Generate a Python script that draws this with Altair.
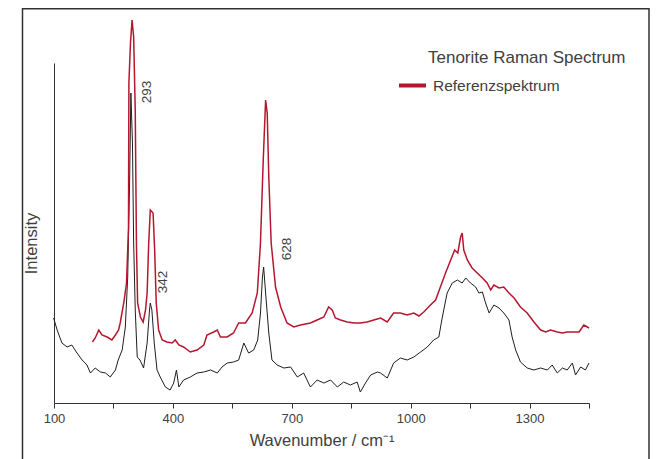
import altair as alt
import pandas as pd

# Sample spectrum (black)
black_wn = [99, 108, 120, 133, 145, 158, 171, 183, 192, 204, 217, 230, 242, 255, 262, 272, 280, 286, 291, 294,
            298, 301, 305, 310, 317, 326, 335, 341, 343, 347, 353, 360, 368, 381, 393, 402, 409, 415, 427, 444,
            461, 478, 495, 512, 524, 537, 553, 566, 579, 591, 604, 614, 621, 626, 629, 634, 642, 650, 663, 680,
            697, 714, 730, 747, 764, 781, 798, 815, 831, 848, 865, 873, 886, 899, 916, 924, 941, 957, 974, 991,
            1008, 1025, 1042, 1058, 1071, 1080, 1092, 1105, 1118, 1130, 1139, 1151, 1164, 1172, 1181, 1189, 1198, 1210, 1223, 1235,
            1248, 1256, 1265, 1277, 1294, 1311, 1328, 1345, 1357, 1370, 1383, 1395, 1408, 1416, 1429, 1441, 1450]
black_int = [85, 73, 60, 56, 58, 50, 43, 38, 30, 35, 31, 30, 26, 33, 43, 53, 76, 126, 226, 310,
             260, 160, 93, 46, 43, 35, 60, 93, 100, 93, 60, 33, 26, 16, 13, 20, 33, 16, 23, 26,
             30, 31, 33, 30, 36, 40, 41, 43, 60, 50, 53, 63, 90, 126, 136, 110, 70, 43, 38, 35,
             36, 26, 30, 16, 23, 20, 23, 16, 21, 18, 21, 11, 20, 28, 31, 30, 25, 40, 45, 43,
             46, 51, 56, 63, 66, 86, 110, 120, 123, 120, 125, 120, 116, 110, 111, 100, 90, 98, 95, 90,
             83, 66, 53, 41, 35, 33, 35, 33, 38, 30, 35, 33, 40, 28, 36, 33, 40]

# Reference spectrum (red)
ref_wn = [197, 204, 213, 221, 234, 246, 255, 263, 267, 276, 283, 288, 289, 293, 297, 301, 305, 308, 311, 318,
          325, 331, 335, 339, 343, 350, 354, 358, 364, 373, 385, 398, 406, 415, 427, 444, 461, 478, 486, 503,
          512, 520, 537, 553, 566, 583, 600, 613, 621, 628, 634, 638, 642, 648, 659, 672, 688, 705, 722, 747,
          764, 781, 793, 802, 810, 823, 840, 857, 873, 890, 907, 924, 941, 957, 974, 991, 1008, 1021, 1033, 1050,
          1063, 1075, 1088, 1101, 1111, 1119, 1126, 1130, 1134, 1143, 1155, 1168, 1181, 1193, 1202, 1210, 1223, 1235, 1248, 1261,
          1277, 1294, 1311, 1328, 1341, 1353, 1370, 1383, 1395, 1408, 1425, 1437, 1450]
ref_int = [61, 65, 73, 68, 66, 63, 68, 73, 80, 100, 120, 176, 320, 360, 383, 366, 293, 160, 100, 86,
           81, 93, 110, 160, 193, 190, 153, 100, 73, 63, 61, 60, 63, 58, 56, 51, 53, 58, 68, 71,
           73, 66, 66, 70, 80, 80, 90, 110, 160, 243, 303, 290, 226, 160, 116, 96, 80, 76, 78, 80,
           83, 86, 96, 93, 85, 83, 81, 80, 80, 81, 83, 85, 81, 90, 90, 88, 90, 87, 91, 98,
           103, 116, 130, 143, 153, 150, 166, 170, 153, 143, 135, 130, 125, 120, 113, 118, 115, 116, 110, 105,
           96, 90, 81, 73, 71, 73, 71, 70, 71, 71, 71, 78, 75]

# Peak annotations
peak_labels = ["293", "342", "628"]
peak_wn = [335, 376, 687]
peak_int = [311, 121, 154]

x_ticks = [100, 250, 400, 550, 700, 850, 1000, 1150, 1300, 1450]

FONT = "Liberation Sans"
TXT = "#404040"

black_df = pd.DataFrame({"wn": black_wn, "I": black_int})
ref_df = pd.DataFrame({"wn": ref_wn, "I": ref_int, "series": ["Referenzspektrum"] * len(ref_wn)})
peaks_df = pd.DataFrame({"wn": peak_wn, "I": peak_int, "label": peak_labels})

xscale = alt.Scale(domain=[100, 1450], nice=False, zero=False)
yscale = alt.Scale(domain=[0, 340], nice=False, zero=False)

xaxis = alt.Axis(values=x_ticks, labelExpr="(datum.value - 100) % 300 == 0 ? datum.label : ''",
                 format="d", grid=False, tickSize=5, domainColor="#333", tickColor="#333",
                 labelColor=TXT, labelFontSize=13, labelPadding=4, labelFlush=False,
                 title="Wavenumber / cm⁻¹",
                 titleFontSize=16.5, titleFontWeight="normal", titleColor=TXT, titlePadding=7)
yaxis = alt.Axis(ticks=False, labels=False, grid=False, domainColor="#333", title="Intensity",
                 titleFontSize=16.5, titleFontWeight="normal", titleColor=TXT, titleX=-23, titleY=180,
                 titleBaseline="middle", titleAngle=270)

black = alt.Chart(black_df).mark_line(color="#1e1e1e", strokeWidth=1).encode(
    x=alt.X("wn:Q", scale=xscale, axis=xaxis),
    y=alt.Y("I:Q", scale=yscale, axis=yaxis),
)

red = alt.Chart(ref_df).mark_line(strokeWidth=1.5).encode(
    x=alt.X("wn:Q", scale=xscale),
    y=alt.Y("I:Q", scale=yscale),
    color=alt.Color("series:N", scale=alt.Scale(domain=["Referenzspektrum"], range=["#b5172e"]),
                    legend=alt.Legend(title=None, orient="none", legendX=343, legendY=7, padding=0,
                                      symbolType="stroke", symbolSize=729, symbolStrokeWidth=4,
                                      labelFontSize=15.5, labelColor=TXT, labelOffset=5, labelFont=FONT)),
)

peaks = alt.Chart(peaks_df).mark_text(angle=270, fontSize=13.5, color=TXT, font=FONT, baseline="middle",
                                      align="center").encode(
    x=alt.X("wn:Q", scale=xscale), y=alt.Y("I:Q", scale=yscale), text="label:N")

title = alt.Chart(alt.Data(values=[{"t": "Tenorite Raman Spectrum"}])).mark_text(
    align="left", baseline="middle", fontSize=17, color=TXT, font=FONT).encode(
    x=alt.value(374), y=alt.value(-5), text="t:N")

frame = alt.Chart(alt.Data(values=[{"a": 1}])).mark_rect(filled=False, stroke="#333", strokeWidth=1.5).encode(
    x=alt.value(-31.5), x2=alt.value(595), y=alt.value(-54.2), y2=alt.value(460))

chart = alt.layer(frame, black, red, peaks, title).properties(
    width=535, height=340,
    autosize=alt.AutoSizeParams(type="none"),
    padding={"left": 46, "top": 55, "right": 72, "bottom": 60},
).configure(font=FONT).configure_view(stroke=None)

chart.save("out.html", embed_options={"renderer": "svg", "actions": False})
